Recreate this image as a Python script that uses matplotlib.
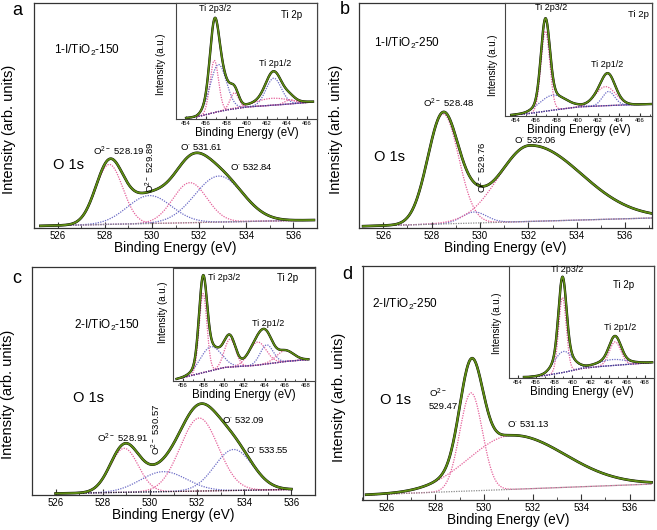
import numpy as np
import matplotlib.pyplot as plt

plt.rcParams['font.family'] = ['Liberation Sans', 'DejaVu Sans']
plt.rcParams['mathtext.default'] = 'regular'

# ---------- data: peak centre (eV), height, FWHM left/right ----------
# panel a, O 1s
a_pos = [528.19, 529.89, 531.61, 532.84]
a_h = [60, 28, 40, 46]
a_wl = [1.35, 2.2, 1.7, 2.4]
a_wr = [1.35, 2.2, 1.7, 2.4]
a_bg_x = [525, 537]
a_bg_y = [2, 8]
# panel a, Ti 2p inset
ai_pos = [456.8, 457.2, 458.8, 462.7, 462.5, 464.3]
ai_h = [52, 47, 16, 27, 7, 4]
ai_w = [1.0, 1.9, 1.0, 1.8, 4.0, 1.2]
ai_bg_x = [454, 455, 457, 458, 460, 463, 466.6]
ai_bg_y = [1, 2, 7, 9, 12, 14, 17]

# panel b, O 1s
b_pos = [528.48, 529.76, 532.06]
b_h = [110, 11, 76]
b_wl = [1.5, 1.2, 3.0]
b_wr = [1.5, 1.2, 5.0]
b_bg_x = [525, 537]
b_bg_y = [1.7, 10]
# panel b, Ti 2p inset
bi_pos = [456.9, 457.6, 462.7, 463.0]
bi_h = [80, 15, 19, 14]
bi_w = [1.0, 3.0, 2.3, 1.4]
bi_bg_x = [453.6, 455, 457, 460, 463, 467.2]
bi_bg_y = [1, 2, 5, 9, 10.5, 12]

# panel c, O 1s
c_pos = [528.91, 530.57, 532.09, 533.55]
c_h = [44, 20, 73, 41]
c_w = [1.4, 2.3, 1.9, 1.9]
c_bg_x = [526, 536]
c_bg_y = [1.5, 5.5]
# panel c, Ti 2p inset
ci_pos = [457.95, 458.7, 460.6, 463.3, 464.2, 466.0]
ci_h = [79, 24, 28, 23, 19, 11]
ci_w = [0.9, 2.4, 1.3, 2.0, 1.5, 2.0]
ci_bg_x = [455.35, 456, 458, 460, 463, 466, 468.3]
ci_bg_y = [1.5, 3, 8, 13, 15, 19, 21]

# panel d, O 1s
d_pos = [529.47, 531.13]
d_h = [98, 54]
d_wl = [1.1, 4.1]
d_wr = [1.1, 5.2]
d_bg_x = [525, 537]
d_bg_y = [5, 16]
# panel d, Ti 2p inset
di_pos = [458.9, 459.0, 464.7, 464.4]
di_h = [75, 21, 23.5, 6]
di_w = [1.0, 2.4, 1.5, 4.0]
di_bg_x = [454.65, 455, 457, 459, 461, 463, 466, 468.8]
di_bg_y = [0.5, 0.5, 2, 5, 9, 11, 13, 15]

PINK = '#e5609a'
BLUE = '#6b6bc6'
GREEN = '#5e8c14'
GRAY = '#8a8a8a'
NAVY = '#3b3b8c'
DOT = (0, (1, 1))

W, H = 657, 530


def box(l, t, r, b):
    return [l / W, 1 - b / H, (r - l) / W, (b - t) / H]


def peak(x, c, h, wl, wr):
    s = np.where(x < c, wl, wr) / 2.3548
    return h * np.exp(-(x - c) ** 2 / (2 * s ** 2))


def draw(ax, xlim, pos, hgt, wl, wr, cols, bgx, bgy, bgcol, lw=1.4):
    x = np.linspace(xlim[0], xlim[1], 700)
    bg = np.interp(x, bgx, bgy)
    total = bg.copy()
    for c, h, l, r, col in zip(pos, hgt, wl, wr, cols):
        comp = peak(x, c, h, l, r)
        ax.plot(x, bg + comp, color=col, ls=DOT, lw=0.9)
        total += comp
    ax.plot(x, bg, color=bgcol, ls=DOT, lw=0.9)
    ax.plot(x, total, color='k', lw=lw + 0.5)
    ax.plot(x, total, color=GREEN, lw=lw)


def style_main(ax, xlim, ytop, ticks):
    ax.set_xlim(xlim)
    ax.set_ylim(0, ytop)
    ax.set_yticks([])
    ax.set_xticks(ticks)
    ax.set_xticks(np.arange(ticks[0] - 1, ticks[-1] + 2, 1), minor=True)
    ax.tick_params(axis='x', direction='in', length=4, labelsize=7, pad=2.5, color='#333333')
    ax.tick_params(axis='x', which='minor', direction='in', length=2, color='#333333')
    ax.set_xlabel('Binding Energy (eV)', fontsize=9.8, labelpad=0)
    for s in ax.spines.values():
        s.set_color('#333333')
        s.set_linewidth(0.9)


def style_inset(ax, xlim, ytop, ticks):
    ax.set_xlim(xlim)
    ax.set_ylim(0, ytop)
    ax.set_yticks([])
    ax.set_xticks(ticks)
    ax.set_xticks(np.arange(ticks[0] - 1, ticks[-1] + 2, 1), minor=True)
    ax.tick_params(axis='x', direction='in', length=2.5, labelsize=4.2, pad=1.5, color='#333333')
    ax.tick_params(axis='x', which='minor', direction='in', length=1.5, color='#333333')
    ax.set_xlabel('Binding Energy (eV)', fontsize=8.3, labelpad=1)
    ax.set_ylabel('Intensity (a.u.)', fontsize=7)
    for s in ax.spines.values():
        s.set_color('#444444')
        s.set_linewidth(0.8)


fig = plt.figure(figsize=(6.57, 5.30), dpi=100)

# ---------------- panel a ----------------
xa = (525.27, 536.87)
ax = fig.add_axes(box(34, 3, 317, 228))
draw(ax, xa, a_pos, a_h, a_wl, a_wr, [PINK, BLUE, PINK, BLUE], a_bg_x, a_bg_y, GRAY)
style_main(ax, xa, 225, [526, 528, 530, 532, 534, 536])
ax.set_ylabel('Intensity (arb. units)', fontsize=10.5)
ax.yaxis.set_label_coords(-0.062, 0.44)
ax.text(527.5, 73, 'O$^{2-}$ 528.19', fontsize=6.8)
ax.text(529.95, 35, 'O$^{2-}$ 529.89', fontsize=6.8, rotation=90, ha='center', va='bottom')
ax.text(531.17, 78, 'O$^{\\bullet}$ 531.61', fontsize=6.8)
ax.text(533.3, 58, 'O$^{\\bullet}$ 532.84', fontsize=6.8)
ax.text(525.8, 63, 'O 1s', fontsize=10.5, va='center')
ax.text(525.85, 178, '1-I/TiO$_2$-150', fontsize=8.5, va='center')

xai = (454, 466.6)
ins = fig.add_axes(box(176, 3, 317, 119))
draw(ins, xai, ai_pos, ai_h, ai_w, ai_w, [PINK, BLUE, PINK, BLUE, PINK, PINK], ai_bg_x, ai_bg_y, NAVY, lw=1.2)
style_inset(ins, xai, 116, list(range(454, 467, 2)))
ins.yaxis.set_label_coords(-0.07, 0.47)
ins.text(456.84, 111, 'Ti 2p3/2', fontsize=6.5, ha='center', va='center')
ins.text(463.45, 104, 'Ti 2p', fontsize=7, va='center')
ins.text(462.8, 56, 'Ti 2p1/2', fontsize=6.5, ha='center', va='center')
fig.text(12 / W, 1 - 2 / H, 'a', fontsize=13, va='top')

# ---------------- panel b ----------------
xb = (525.17, 537.11)
ax = fig.add_axes(box(359, 3, 652, 228))
draw(ax, xb, b_pos, b_h, b_wl, b_wr, [PINK, BLUE, PINK], b_bg_x, b_bg_y, GRAY)
style_main(ax, xb, 225, [526, 528, 530, 532, 534, 536])
ax.set_ylabel('Intensity (arb. units)', fontsize=10.5)
ax.yaxis.set_label_coords(-0.055, 0.44)
ax.text(527.66, 121, 'O$^{2-}$ 528.48', fontsize=6.8)
ax.text(530.1, 35, 'O$^{2-}$ 529.76', fontsize=6.8, rotation=90, ha='center', va='bottom')
ax.text(531.4, 85, 'O$^{\\bullet}$ 532.06', fontsize=6.8)
ax.text(525.6, 71, 'O 1s', fontsize=10.5, va='center')
ax.text(525.6, 185, '1-I/TiO$_2$-250', fontsize=8.5, va='center')

xbi = (453.6, 467.2)
ins = fig.add_axes(box(505, 3, 652, 116))
draw(ins, xbi, bi_pos, bi_h, bi_w, bi_w, [PINK, BLUE, PINK, BLUE], bi_bg_x, bi_bg_y, NAVY, lw=1.2)
style_inset(ins, xbi, 113, list(range(454, 467, 2)))
ins.yaxis.set_label_coords(-0.05, 0.45)
ins.text(457.47, 108, 'Ti 2p3/2', fontsize=6.5, ha='center', va='center')
ins.text(464.9, 101, 'Ti 2p', fontsize=6.8, va='center')
ins.text(462.9, 51, 'Ti 2p1/2', fontsize=6.5, ha='center', va='center')
fig.text(340 / W, 1 - 1 / H, 'b', fontsize=13, va='top')

# ---------------- panel c ----------------
xc = (526, 536)
ax = fig.add_axes(box(32, 267, 315, 495))
draw(ax, xc, c_pos, c_h, c_w, c_w, [PINK, BLUE, PINK, BLUE], c_bg_x, c_bg_y, '#222222')
style_main(ax, xc, 228, [526, 528, 530, 532, 534, 536])
ax.set_ylabel('Intensity (arb. units)', fontsize=10.5)
ax.yaxis.set_label_coords(-0.06, 0.44)
ax.text(527.76, 53, 'O$^{2-}$ 528.91', fontsize=6.8)
ax.text(530.29, 40, 'O$^{2-}$ 530.57', fontsize=6.8, rotation=90, ha='center', va='bottom')
ax.text(533.06, 72, 'O$^{\\bullet}$ 532.09', fontsize=6.8)
ax.text(534.08, 42, 'O$^{\\bullet}$ 533.55', fontsize=6.8)
ax.text(526.75, 97, 'O 1s', fontsize=10.5, va='center')
ax.text(526.8, 170, '2-I/TiO$_2$-150', fontsize=8.5, va='center')

xci = (455.35, 468.3)
ins = fig.add_axes(box(173, 268, 315.5, 380.5))
draw(ins, xci, ci_pos, ci_h, ci_w, ci_w, [PINK, BLUE, PINK, PINK, BLUE, PINK], ci_bg_x, ci_bg_y, NAVY, lw=1.2)
style_inset(ins, xci, 112.5, list(range(456, 469, 2)))
ins.yaxis.set_label_coords(-0.035, 0.61)
ins.text(458.46, 103.5, 'Ti 2p3/2', fontsize=6.5, va='center')
ins.text(465.2, 102.5, 'Ti 2p', fontsize=7, va='center')
ins.text(464.36, 56.5, 'Ti 2p1/2', fontsize=6.5, ha='center', va='center')
fig.text(12 / W, 1 - 270 / H, 'c', fontsize=13, va='top')

# ---------------- panel d ----------------
xd = (525.15, 536.9)
ax = fig.add_axes(box(362.5, 266, 654, 500))
draw(ax, xd, d_pos, d_h, d_wl, d_wr, [PINK, PINK], d_bg_x, d_bg_y, GRAY)
style_main(ax, xd, 234, [526, 528, 530, 532, 534, 536])
ax.set_ylabel('Intensity (arb. units)', fontsize=10.5)
ax.yaxis.set_label_coords(-0.055, 0.44)
ax.text(527.73, 89, 'O$^{2-}$\n529.47', fontsize=6.8, va='bottom', linespacing=1.3)
ax.text(530.93, 73, 'O$^{\\bullet}$ 531.13', fontsize=6.8)
ax.text(525.7, 100, 'O 1s', fontsize=10.5, va='center')
ax.text(525.4, 196, '2-I/TiO$_2$-250', fontsize=8.5, va='center')

xdi = (454.65, 468.8)
ins = fig.add_axes(box(509, 266, 654, 377.5))
draw(ins, xdi, di_pos, di_h, di_w, di_w, [PINK, BLUE, PINK, BLUE], di_bg_x, di_bg_y, NAVY, lw=1.2)
style_inset(ins, xdi, 111.5, list(range(454, 469, 2)))
ins.yaxis.set_label_coords(-0.05, 0.49)
ins.text(459.44, 108.5, 'Ti 2p3/2', fontsize=6.5, ha='center', va='center')
ins.text(464.46, 92, 'Ti 2p', fontsize=7, va='center')
ins.text(465.26, 50.5, 'Ti 2p1/2', fontsize=6.5, ha='center', va='center')
fig.text(342 / W, 1 - 266 / H, 'd', fontsize=13, va='top')

fig.savefig('out.png', dpi=100)
